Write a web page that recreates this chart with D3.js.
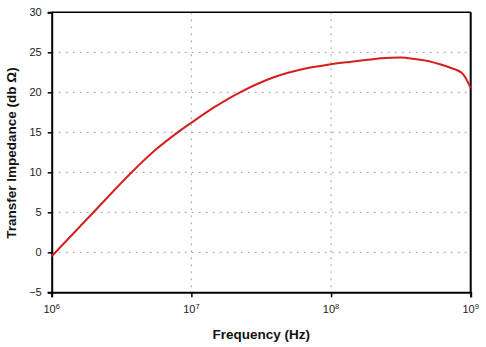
<!DOCTYPE html>
<html>
<head>
<meta charset="utf-8">
<script src="https://cdn.jsdelivr.net/npm/d3@7"></script>
<style>
  html, body { margin: 0; padding: 0; background: #fff; }
  svg { display: block; font-family: "Liberation Sans", Arial, sans-serif; }
</style>
</head>
<body>
<svg id="chart" width="486" height="347"></svg>
<script>
// Transfer impedance versus frequency
const frequencies = [1e6, 1.99e6, 3.74e6, 5.62e6, 7.85e6, 1e7, 1.48e7, 2.23e7, 3.85e7, 6.68e7,
  1e8, 1.36e8, 1.7e8, 2.12e8, 2.5e8, 3.2e8, 3.87e8, 4.83e8, 6.03e8, 7.08e8, 8.61e8, 9.33e8, 1e9];
const impedance = [-0.5, 5, 10, 12.9, 14.9, 16.2, 18.2, 20.0, 21.85, 23.0,
  23.5, 23.8, 24.0, 24.2, 24.28, 24.35, 24.2, 23.95, 23.5, 23.1, 22.45, 21.6, 20.5];
const xTickValues = [1e6, 1e7, 1e8, 1e9];
const yTickValues = [-5, 0, 5, 10, 15, 20, 25, 30];
const xTitle = "Frequency (Hz)";
const yTitle = "Transfer Impedance (db \u03A9)";

const svg = d3.select("#chart");
const m = { left: 51.7, right: 470.7, top: 12.3, bottom: 292.3 };

const x = d3.scaleLog().domain([1e6, 1e9]).range([m.left, m.right]);
const y = d3.scaleLinear().domain([-5, 30]).range([m.bottom, m.top]);

// dotted grid
const grid = svg.append("g").attr("stroke", "#b4b4b4").attr("stroke-width", 1.2)
  .attr("stroke-dasharray", "2,5");
grid.selectAll("line.h").data(yTickValues.filter(v => v > -5 && v < 30)).join("line")
  .attr("x1", m.left).attr("x2", m.right)
  .attr("y1", d => y(d)).attr("y2", d => y(d));
grid.selectAll("line.v").data(xTickValues.filter(v => v > 1e6 && v < 1e9)).join("line")
  .attr("y1", m.top).attr("y2", m.bottom)
  .attr("x1", d => x(d)).attr("x2", d => x(d));

// frame top / right
svg.append("line").attr("x1", m.left).attr("x2", m.right).attr("y1", m.top).attr("y2", m.top)
  .attr("stroke", "#000").attr("stroke-width", 1.5);
svg.append("line").attr("x1", m.right).attr("x2", m.right).attr("y1", m.top).attr("y2", m.bottom)
  .attr("stroke", "#000").attr("stroke-width", 2);

// y axis
const yAxis = svg.append("g").attr("transform", `translate(${m.left},0)`)
  .call(d3.axisLeft(y).tickValues(yTickValues).tickSize(4).tickPadding(6).tickFormat(d3.format("d")));
yAxis.select(".domain").attr("stroke-width", 2);
yAxis.selectAll(".tick line").attr("stroke-width", 1.5);
yAxis.selectAll(".tick text").attr("font-size", 11).attr("fill", "#222")
  .attr("font-family", "Liberation Sans, Arial, sans-serif");

// x axis with superscript powers
const xAxis = svg.append("g").attr("transform", `translate(0,${m.bottom})`)
  .call(d3.axisBottom(x).tickValues(xTickValues).tickSize(5).tickFormat(""));
xAxis.select(".domain").attr("stroke-width", 2);
xAxis.selectAll(".tick line").attr("stroke-width", 1.5);
const xl = svg.append("g").selectAll("text").data(xTickValues).join("text")
  .attr("x", d => x(d)).attr("y", 313)
  .attr("text-anchor", "middle").attr("font-size", 11).attr("fill", "#222");
xl.append("tspan").text("10");
xl.append("tspan").attr("font-size", 7.5).attr("dy", -4)
  .text(d => Math.round(Math.log10(d)));

// curve
svg.append("path").datum(frequencies.map((f, i) => [f, impedance[i]]))
  .attr("fill", "none").attr("stroke", "#d41f1f").attr("stroke-width", 2)
  .attr("d", d3.line().x(d => x(d[0])).y(d => y(d[1])).curve(d3.curveCatmullRom.alpha(0.5)));

// titles
svg.append("text").attr("x", (m.left + m.right) / 2).attr("y", 339)
  .attr("text-anchor", "middle").attr("font-size", 13.5).attr("font-weight", "bold")
  .attr("fill", "#111").text(xTitle);
svg.append("text").attr("transform", `translate(16,153) rotate(-90)`)
  .attr("text-anchor", "middle").attr("font-size", 13.5).attr("font-weight", "bold")
  .attr("fill", "#111").text(yTitle);
</script>
</body>
</html>
